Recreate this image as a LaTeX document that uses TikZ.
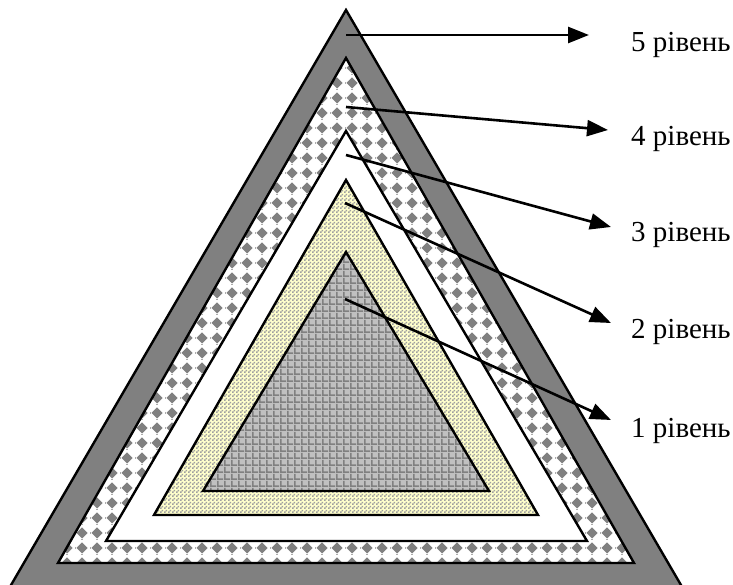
\documentclass[tikz,border=0pt]{standalone}
\usepackage{fontspec}
\setmainfont{Liberation Serif}
\usetikzlibrary{arrows.meta,patterns}
\definecolor{bandgray}{HTML}{808080}
\definecolor{gridbg}{HTML}{C0C0C0}
\definecolor{paleyellow}{HTML}{FFFFCC}
\pgfdeclarepatternformonly{diamonddots}{\pgfpointorigin}{\pgfpoint{15pt}{15pt}}{\pgfpoint{15pt}{15pt}}{%
  \pgfpathmoveto{\pgfpoint{7.5pt}{1.6pt}}%
  \pgfpathlineto{\pgfpoint{13.4pt}{7.5pt}}%
  \pgfpathlineto{\pgfpoint{7.5pt}{13.4pt}}%
  \pgfpathlineto{\pgfpoint{1.6pt}{7.5pt}}%
  \pgfpathclose
  \pgfpathrectangle{\pgfpoint{6.9pt}{0pt}}{\pgfpoint{1.2pt}{0.8pt}}%
  \pgfpathrectangle{\pgfpoint{0pt}{6.9pt}}{\pgfpoint{0.8pt}{1.2pt}}%
  \pgfusepath{fill}%
}
\pgfdeclarepatternformonly{finechecker}{\pgfpointorigin}{\pgfpoint{4pt}{4pt}}{\pgfpoint{4pt}{4pt}}{%
  \pgfpathrectangle{\pgfpointorigin}{\pgfpoint{2pt}{2pt}}%
  \pgfpathrectangle{\pgfpoint{2pt}{2pt}}{\pgfpoint{2pt}{2pt}}%
  \pgfusepath{fill}%
}
\pgfdeclarepatternformonly{squaregrid}{\pgfpointorigin}{\pgfpoint{7pt}{7pt}}{\pgfpoint{7pt}{7pt}}{%
  \pgfpathrectangle{\pgfpointorigin}{\pgfpoint{7pt}{1.8pt}}%
  \pgfpathrectangle{\pgfpointorigin}{\pgfpoint{1.8pt}{7pt}}%
  \pgfusepath{fill}%
}
\tikzset{
  edge/.style={draw=black, line width=2.4pt, line join=miter},
  pointer/.style={line width=2.6pt, -{Triangle[length=21pt,width=16pt]}},
  lvl/.style={anchor=base west, inner sep=0pt, font=\fontsize{29pt}{30pt}\selectfont}
}
\begin{document}
\begin{tikzpicture}[x=1pt,y=-1pt]
\useasboundingbox (0,0) rectangle (733,585);
\clip (0,0) rectangle (733,585);
\fill[white] (0,0) rectangle (733,585);
% level 5 (outer band)
\coordinate (a5) at (346,10);
\coordinate (b5l) at (2.3,600);
\coordinate (b5r) at (689.7,600);
\fill[bandgray] (a5) -- (b5l) -- (b5r) -- cycle;
% level 4
\coordinate (a4) at (346,58);
\coordinate (b4l) at (58,563);
\coordinate (b4r) at (634,563);
\fill[white] (a4) -- (b4l) -- (b4r) -- cycle;
\fill[pattern=diamonddots, pattern color=bandgray] (a4) -- (b4l) -- (b4r) -- cycle;
% level 3
\coordinate (a3) at (346,131);
\coordinate (b3l) at (106,541);
\coordinate (b3r) at (587,541);
\fill[white] (a3) -- (b3l) -- (b3r) -- cycle;
% level 2
\coordinate (a2) at (346,180);
\coordinate (b2l) at (154,515);
\coordinate (b2r) at (538,515);
\fill[paleyellow] (a2) -- (b2l) -- (b2r) -- cycle;
\fill[pattern=finechecker, pattern color=gray!75] (a2) -- (b2l) -- (b2r) -- cycle;
% level 1
\coordinate (a1) at (346,252);
\coordinate (b1l) at (203,491);
\coordinate (b1r) at (489,491);
\fill[gridbg] (a1) -- (b1l) -- (b1r) -- cycle;
\fill[pattern=squaregrid, pattern color=bandgray] (a1) -- (b1l) -- (b1r) -- cycle;
% outlines
\draw[edge] (a5) -- (b5l) -- (b5r) -- cycle;
\draw[edge] (a4) -- (b4l) -- (b4r) -- cycle;
\draw[edge] (a3) -- (b3l) -- (b3r) -- cycle;
\draw[edge] (a2) -- (b2l) -- (b2r) -- cycle;
\draw[edge] (a1) -- (b1l) -- (b1r) -- cycle;
% labels
\node[lvl] (l5) at (631,52) {5 рівень};
\node[lvl] (l4) at (631,146) {4 рівень};
\node[lvl] (l3) at (631,242) {3 рівень};
\node[lvl] (l2) at (631,338) {2 рівень};
\node[lvl] (l1) at (631,437) {1 рівень};
% arrows
\coordinate (s5) at (346,35);  \coordinate (t5) at (589,35);
\coordinate (s4) at (346,107); \coordinate (t4) at (608,130);
\coordinate (s3) at (346,155); \coordinate (t3) at (611,227);
\coordinate (s2) at (345,203); \coordinate (t2) at (611,323);
\coordinate (s1) at (345,299); \coordinate (t1) at (611,420);
\draw[pointer] (s5) -- (t5);
\draw[pointer] (s4) -- (t4);
\draw[pointer] (s3) -- (t3);
\draw[pointer] (s2) -- (t2);
\draw[pointer] (s1) -- (t1);
\end{tikzpicture}
\end{document}
